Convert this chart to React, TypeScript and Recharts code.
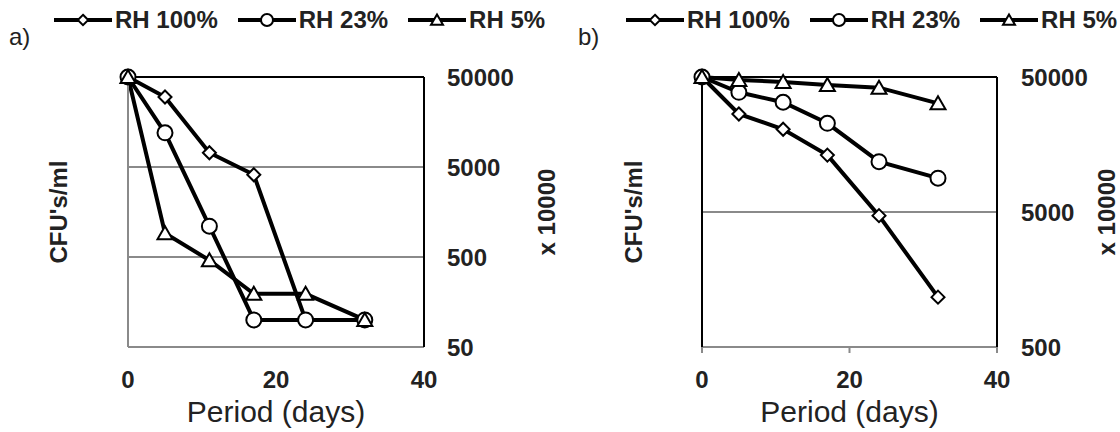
import React from 'react';
import { LineChart, Line, XAxis, YAxis, CartesianGrid, Legend, ReferenceLine } from 'recharts';

const FONT = '"Liberation Sans", Arial, Helvetica, sans-serif';
const TEXT = '#222';
const GRAY = '#8a8a8a';

// Shared categories
const days = [0, 5, 11, 17, 24, 32];
const seriesKeys = ['rh100', 'rh23', 'rh5'];
const seriesNames = ['RH 100%', 'RH 23%', 'RH 5%'];
const markerShapes = ['diamond', 'circle', 'triangle'];

// Panel a values (CFU's/ml x 10000)
const rh100A = [50000, 30000, 7200, 4100, 100, 100];
const rh23A = [50000, 12000, 1100, 100, 100, 100];
const rh5A = [50000, 920, 460, 195, 195, 100];

// Panel b values (CFU's/ml x 10000)
const rh100B = [50000, 26600, 20500, 13200, 4700, 1170];
const rh23B = [50000, 38500, 32500, 22700, 11800, 8900];
const rh5B = [50000, 47500, 46000, 43600, 41700, 31900];

// Tick labels
const xTicks = [0, 20, 40];
const yTicksA = [50, 500, 5000, 50000];
const yTicksB = [500, 5000, 50000];

const buildRows = (a: number[], b: number[], c: number[]) =>
  days.map((d, i) => ({ day: d, rh100: a[i], rh23: b[i], rh5: c[i] }));

const dataA = buildRows(rh100A, rh23A, rh5A);
const dataB = buildRows(rh100B, rh23B, rh5B);

function Marker({ shape, cx, cy, s = 1 }: { shape: string; cx?: number; cy?: number; s?: number }) {
  if (cx == null || cy == null || isNaN(cx) || isNaN(cy)) return null;
  const common = { fill: '#fff', stroke: '#000', strokeWidth: 2 };
  if (shape === 'diamond') {
    const r = 6.5 * s;
    return <polygon points={`${cx},${cy - r} ${cx + r},${cy} ${cx},${cy + r} ${cx - r},${cy}`} {...common} />;
  }
  if (shape === 'circle') {
    return <circle cx={cx} cy={cy} r={7.5 * s} {...common} />;
  }
  const w = 7.5 * s;
  return <polygon points={`${cx},${cy - 7 * s} ${cx + w},${cy + 6 * s} ${cx - w},${cy + 6 * s}`} {...common} />;
}

const renderLegend = (props: any) => {
  const payload = props.payload || [];
  return (
    <div style={{ display: 'flex', alignItems: 'center', fontFamily: FONT, fontWeight: 700, fontSize: 24, color: TEXT, whiteSpace: 'nowrap' }}>
      {payload.map((item: any, i: number) => {
        const idx = seriesKeys.indexOf(item.dataKey);
        return (
          <div key={i} style={{ display: 'flex', alignItems: 'center', marginRight: 20 }}>
            <svg width={58} height={20} style={{ display: 'block' }}>
              <line x1={0} y1={10} x2={58} y2={10} stroke="#000" strokeWidth={4} />
              <Marker shape={markerShapes[idx]} cx={29} cy={10} s={0.8} />
            </svg>
            <span style={{ marginLeft: 3, lineHeight: '28px' }}>{item.value}</span>
          </div>
        );
      })}
    </div>
  );
};

type PanelProps = {
  data: any[];
  yTicks: number[];
  yDomain: [number, number];
  leftW: number;
  rightW: number;
  rightTickMargin: number;
  leftLabelOffset: number;
  rightLabelOffset: number;
  leftAxisColor: string;
  leftTickLine: boolean;
  xTickLine: boolean;
  legendLeft: number;
};

function Panel(p: PanelProps) {
  const tickStyle = { fill: TEXT, fontSize: 24, fontWeight: 700, fontFamily: FONT };
  return (
    <LineChart width={560} height={432} data={p.data} margin={{ top: 77, right: 0, bottom: 4, left: 0 }}>
      <CartesianGrid yAxisId="right" vertical={false} stroke={GRAY} strokeWidth={2} />
      <XAxis
        type="number"
        dataKey="day"
        domain={[0, 40]}
        ticks={xTicks}
        interval={0}
        height={81}
        axisLine={{ stroke: GRAY, strokeWidth: 2 }}
        tickLine={p.xTickLine ? { stroke: GRAY, strokeWidth: 2 } : false}
        tickSize={6}
        tickMargin={18}
        tick={tickStyle}
        label={{
          value: 'Period (days)',
          position: 'insideBottom',
          offset: 6,
          fill: TEXT,
          style: { fill: TEXT, fontSize: 30, fontFamily: FONT, fontWeight: 400 },
        }}
      />
      <YAxis
        yAxisId="left"
        orientation="left"
        width={p.leftW}
        scale="log"
        domain={p.yDomain}
        ticks={p.yTicks}
        tick={false}
        tickSize={6}
        tickLine={p.leftTickLine ? { stroke: '#000', strokeWidth: 2 } : false}
        axisLine={{ stroke: p.leftAxisColor, strokeWidth: 2 }}
        label={{
          value: "CFU's/ml",
          angle: -90,
          position: 'insideLeft',
          offset: p.leftLabelOffset,
          fill: TEXT,
          style: { textAnchor: 'middle', fill: TEXT, fontSize: 24, fontWeight: 700, fontFamily: FONT },
        }}
      />
      <YAxis
        yAxisId="right"
        orientation="right"
        width={p.rightW}
        scale="log"
        domain={p.yDomain}
        ticks={p.yTicks}
        tickLine={false}
        tickSize={6}
        tickMargin={p.rightTickMargin}
        axisLine={{ stroke: '#000', strokeWidth: 2 }}
        tick={tickStyle}
        label={{
          value: 'x 10000',
          angle: -90,
          position: 'insideRight',
          offset: p.rightLabelOffset,
          fill: TEXT,
          style: { textAnchor: 'middle', fill: TEXT, fontSize: 24, fontWeight: 700, fontFamily: FONT },
        }}
      />
      <ReferenceLine yAxisId="right" y={p.yDomain[1]} stroke="#000" strokeWidth={2} />
      <Legend
        layout="horizontal"
        verticalAlign="middle"
        align="center"
        wrapperStyle={{ top: 6, left: p.legendLeft }}
        content={renderLegend}
      />
      {seriesKeys.map((k, i) => (
        <Line
          key={k}
          yAxisId="right"
          dataKey={k}
          name={seriesNames[i]}
          type="linear"
          stroke="#000"
          strokeWidth={4}
          isAnimationActive={false}
          dot={(d: any) => <Marker key={`${k}-${d.index}`} shape={markerShapes[i]} cx={d.cx} cy={d.cy} />}
          activeDot={false}
        />
      ))}
    </LineChart>
  );
}

export default function App() {
  return (
    <div style={{ position: 'absolute', left: 0, top: 0, width: 1120, height: 432, background: '#fff', overflow: 'hidden' }}>
      <div style={{ position: 'absolute', left: 0, top: 0 }}>
        <Panel
          data={dataA}
          yTicks={yTicksA}
          yDomain={[50, 50000]}
          leftW={128}
          rightW={136}
          rightTickMargin={17}
          leftLabelOffset={58}
          rightLabelOffset={14}
          leftAxisColor={GRAY}
          leftTickLine={false}
          xTickLine={false}
          legendLeft={54}
        />
      </div>
      <div style={{ position: 'absolute', left: 560, top: 0 }}>
        <Panel
          data={dataB}
          yTicks={yTicksB}
          yDomain={[500, 50000]}
          leftW={142}
          rightW={123}
          rightTickMargin={18}
          leftLabelOffset={73}
          rightLabelOffset={14}
          leftAxisColor="#000"
          leftTickLine={true}
          xTickLine={true}
          legendLeft={66}
        />
      </div>
      <div style={{ position: 'absolute', left: 9, top: 23, fontSize: 24, fontFamily: FONT, color: TEXT }}>a)</div>
      <div style={{ position: 'absolute', left: 578, top: 23, fontSize: 24, fontFamily: FONT, color: TEXT }}>b)</div>
    </div>
  );
}
